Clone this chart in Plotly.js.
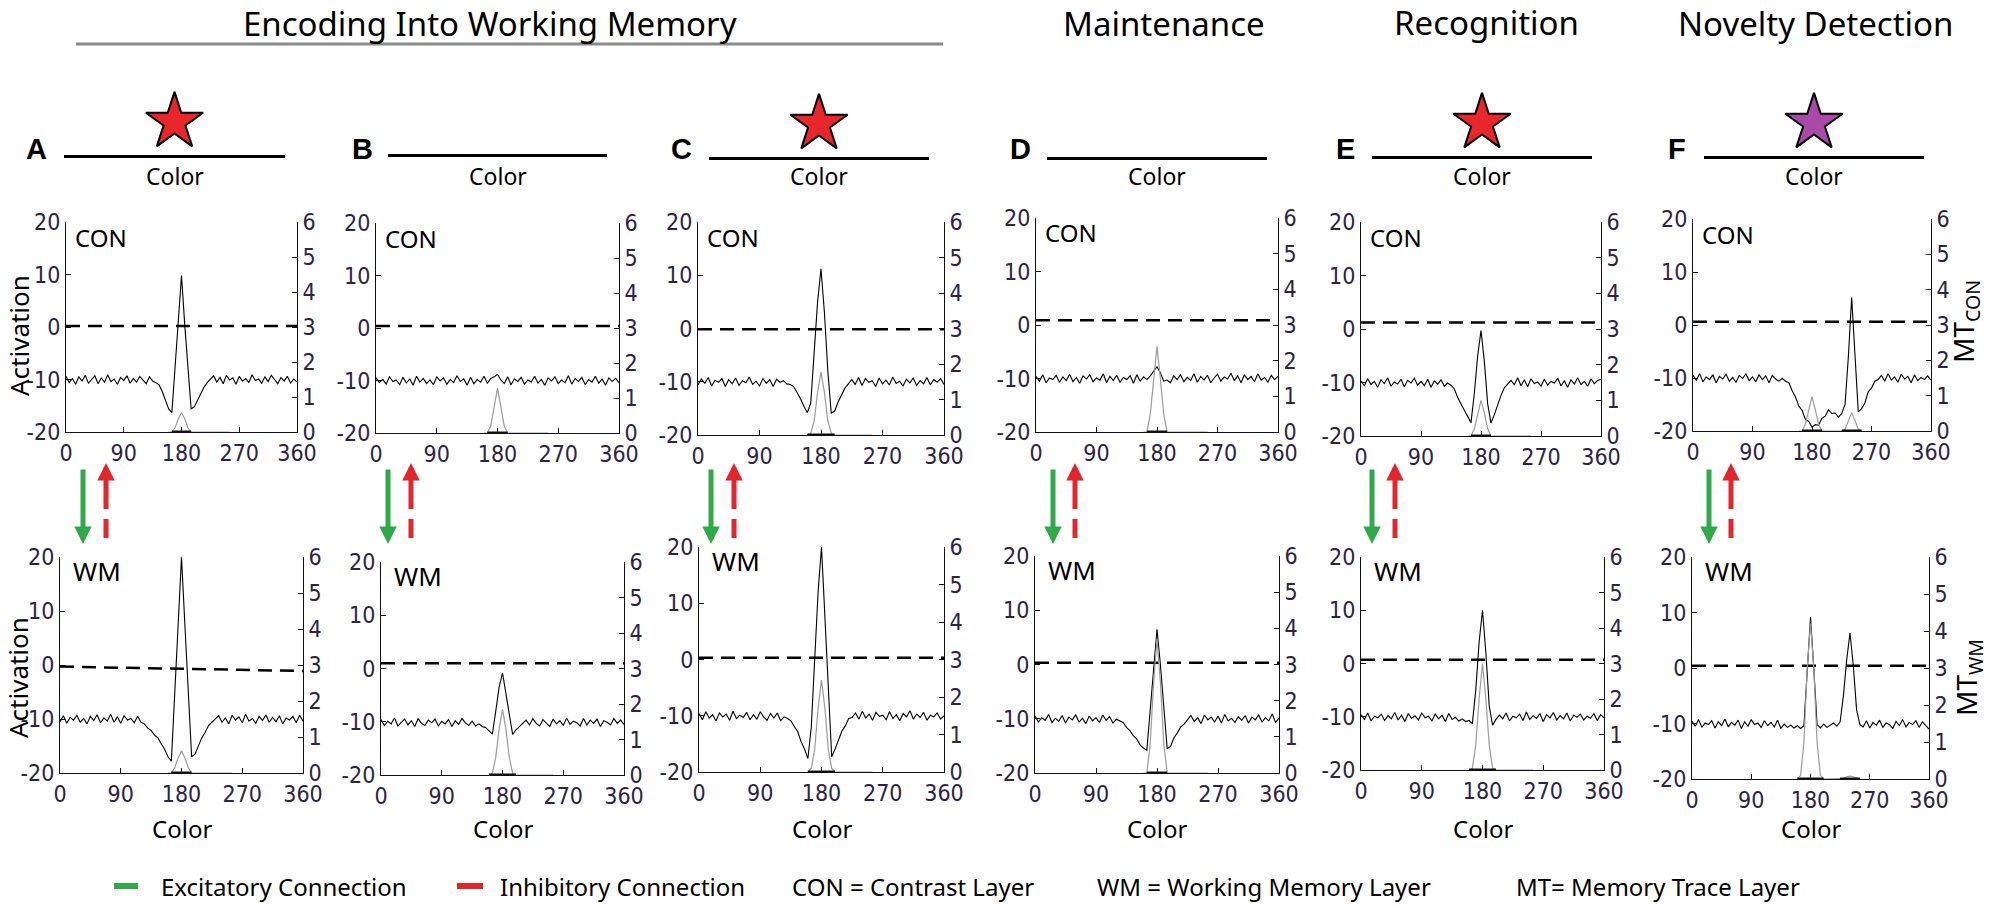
<!DOCTYPE html>
<html><head><meta charset="utf-8">
<script src="https://cdn.plot.ly/plotly-3.0.1.min.js"></script>
<style>html,body{margin:0;padding:0;background:#fff;} #chart{width:1991px;height:906px;}</style>
</head><body><div id="chart"></div>
<script>
// ---------------- DATA ----------------
const colorX = [0,5,10,15,20,25,30,35,40,45,50,55,60,65,70,75,80,85,90,95,100,105,110,115,120,125,130,135,140,145,150,155,160,165,170,175,180,185,190,195,200,205,210,215,220,225,230,235,240,245,250,255,260,265,270,275,280,285,290,295,300,305,310,315,320,325,330,335,340,345,350,355,360];
const colorTicks = [0,90,180,270,360];
const activationTicks = [-20,-10,0,10,20];
const activationTickText = ['-20','-10','0','10','20'];
const mtTicks = [0,1,2,3,4,5,6];
const panelLetters = ['A','B','C','D','E','F'];
const phaseNames = ['Encoding Into Working Memory','Maintenance','Recognition','Novelty Detection'];
const layerNames = ['CON','WM'];

// Contrast layer (CON) activation, panels A-F
const conA = [-9.4,-10.6,-9.8,-10.9,-9.5,-10.3,-9.2,-10.7,-10.0,-9.3,-10.8,-9.7,-10.5,-9.1,-10.4,-9.9,-10.9,-9.6,-10.2,-9.3,-10.7,-9.8,-10.5,-9.4,-10.1,-10.8,-9.5,-10.3,
  -10.6,-11.0,-12.3,-13.9,-15.6,-16.3,-7.8,1.2,9.8,0.5,-8.0,-15.6,-15.2,-13.9,-12.6,-11.5,-10.6,-9.9,
  -9.3,-10.5,-9.6,-10.8,-9.2,-10.1,-9.7,-10.9,-9.4,-10.3,-9.8,-10.6,-9.1,-10.2,-9.9,-10.7,-9.5,-10.4,-9.2,-10.0,-10.8,-9.6,-10.3,-9.4,-10.7,-9.9,-10.5];
const conB = [-9.5,-10.4,-9.8,-10.7,-9.3,-10.2,-9.9,-10.8,-9.4,-10.5,-9.7,-10.9,-9.2,-10.3,-9.6,-10.6,-9.9,-10.8,-9.3,-10.1,-9.5,-10.7,-9.8,-10.4,-9.1,-10.2,-9.7,-10.9,-9.4,-10.6,-9.8,-10.3,-9.2,-10.5,-9.6,-9.3,
  -8.8,
  -9.9,-10.6,-9.3,-10.8,-9.7,-10.2,-9.4,-10.7,-9.9,-10.3,-9.2,-10.5,-9.8,-10.9,-9.5,-10.1,-9.3,-10.6,-9.9,-10.4,-9.1,-10.7,-9.6,-10.2,-9.4,-10.8,-9.8,-10.3,-9.2,-10.5,-9.7,-10.9,-9.5,-10.2,-9.6,-10.4];
const conC = [-10.6,-9.5,-10.3,-9.2,-10.8,-9.7,-10.1,-9.4,-10.9,-9.6,-10.4,-9.3,-10.7,-9.8,-10.2,-9.1,-10.5,-9.9,-10.8,-9.4,-10.3,-9.6,-10.9,-9.5,-10.1,-9.8,-10.4,
  -10.5,-10.9,-12.0,-13.2,-14.6,-15.8,-14.0,-5.0,5.0,11.2,3.0,-8.0,-15.9,-15.5,-13.8,-12.5,-11.2,-10.4,
  -9.6,-10.5,-9.2,-10.7,-9.4,-10.1,-9.8,-10.9,-9.3,-10.4,-9.7,-10.6,-9.1,-10.3,-9.9,-10.8,-9.5,-10.2,-9.3,-10.7,-9.8,-10.4,-9.2,-10.6,-9.6,-10.1,-9.4,-10.5];
const conD = [-9.6,-10.5,-9.3,-10.8,-9.9,-10.2,-9.4,-10.7,-9.7,-10.4,-9.2,-10.6,-9.8,-10.9,-9.5,-10.1,-9.3,-10.6,-9.9,-10.3,-9.1,-10.8,-9.6,-10.4,-9.4,-10.7,-9.8,-10.2,-9.5,-10.9,-9.3,-10.5,-9.7,-10.2,
  -9.5,-8.6,-7.8,-8.9,-10.5,
  -10.3,-10.8,-9.5,-10.2,-9.3,-10.6,-9.8,-10.4,-9.1,-10.7,-9.6,-10.3,-9.4,-10.8,-9.9,-9.2,-10.5,-9.7,-10.1,-9.0,-10.4,-9.5,-10.8,-9.3,-10.2,-9.6,-10.6,-9.1,-10.3,-9.8,-10.7,-9.4,-10.2,-9.6];
const conE = [-9.7,-10.6,-9.3,-10.4,-9.8,-10.9,-9.5,-10.2,-9.1,-10.7,-9.9,-10.3,-9.4,-10.8,-9.6,-10.1,-9.2,-10.5,-9.8,-10.6,-9.4,-10.9,-9.7,-10.3,-9.5,-10.7,-10.1,
  -10.5,-11.2,-12.8,-14.0,-15.2,-16.6,-17.5,-12.0,-5.0,-0.3,-6.0,-14.0,-17.6,-16.0,-14.0,-12.4,-11.0,-10.3,
  -9.6,-10.4,-9.1,-10.6,-9.5,-10.8,-9.3,-10.2,-9.9,-10.7,-9.4,-10.5,-9.8,-10.1,-9.2,-10.6,-9.7,-10.9,-9.5,-10.3,-9.1,-10.4,-9.8,-10.7,-9.3,-10.2,-9.6,-9.4];
const conF = [-9.5,-10.4,-9.2,-10.7,-9.8,-10.3,-9.4,-10.9,-9.7,-10.2,-9.3,-10.6,-9.9,-10.8,-9.5,-10.1,-9.2,-10.5,-9.8,-10.7,-9.4,-10.3,-9.6,-10.9,-9.5,-10.2,-10.6,-10.1,
  -10.6,-10.9,-12.4,-13.6,-15.3,-16.1,-17.8,-18.2,-19.3,-18.8,-18.9,-17.6,-17.2,-16.0,-16.7,-16.6,-17.4,-16.7,-15.0,-6.0,5.2,-6.0,-16.4,-15.8,-14.7,-12.6,-11.9,-10.6,-10.3,
  -9.5,-10.6,-9.2,-10.4,-9.8,-10.8,-9.3,-10.2,-9.7,-10.9,-9.4,-10.5,-9.9,-10.3,-9.6,-10.4];

// Working memory layer (WM) activation, panels A-F
const wmA = [-10.5,-9.4,-10.8,-9.7,-10.2,-9.3,-10.6,-9.9,-10.9,-9.5,-10.3,-9.2,-10.7,-9.8,-10.4,-9.1,-10.6,-9.6,-10.8,-9.4,-10.2,-9.9,-10.7,-9.5,
  -10.6,-10.9,-11.7,-12.1,-13.0,-13.5,-14.6,-15.6,-17.0,-17.8,-5.2,7.6,20,7.5,-5.0,-17.0,-16.5,-15.1,-13.5,-12.5,-11.2,-10.6,-10.0,
  -9.4,-10.6,-9.8,-10.9,-9.3,-10.2,-9.6,-10.7,-9.1,-10.4,-9.9,-10.8,-9.5,-10.3,-9.2,-10.6,-9.7,-10.5,-9.4,-10.9,-9.8,-10.2,-9.5,-10.7,-9.3,-10.4];
const wmB = [-9.6,-10.7,-9.9,-10.4,-9.3,-10.8,-10.1,-9.5,-10.6,-9.8,-10.9,-9.4,-10.3,-10.7,-9.7,-10.2,-9.5,-10.8,-9.9,-10.4,-9.6,-10.9,-9.8,-10.5,-9.4,-10.2,-10.7,-9.9,-10.8,-10.4,
  -10.9,-11.1,-11.7,-12.3,-8.0,-3.5,-0.8,-4.5,-9.0,-12.4,-11.5,-10.9,-10.4,
  -9.7,-10.6,-9.4,-10.3,-10.8,-9.6,-10.2,-10.9,-9.5,-10.4,-9.8,-10.7,-9.3,-10.5,-9.9,-10.2,-10.8,-9.4,-10.6,-9.7,-10.3,-9.5,-10.9,-9.8,-10.1,-10.6,-9.4,-10.3,-9.7,-10.5];
const wmC = [-9.6,-10.7,-9.3,-10.4,-9.8,-10.9,-9.5,-10.2,-9.7,-10.8,-9.2,-10.5,-9.9,-10.3,-9.4,-10.7,-9.8,-10.6,-9.3,-10.2,-10.8,-9.6,-10.4,-9.5,-10.9,-10.2,
  -10.5,-10.9,-11.9,-12.8,-14.6,-15.9,-17.6,-12.0,0.0,12.0,20,8.0,-6.0,-17.3,-15.9,-14.4,-12.7,-11.8,-10.5,-10.3,
  -9.5,-10.6,-9.2,-10.4,-9.7,-10.8,-9.4,-10.1,-9.9,-10.7,-9.3,-10.5,-9.8,-10.9,-9.6,-10.2,-9.1,-10.6,-9.7,-10.3,-9.4,-10.8,-9.9,-10.2,-9.5,-10.6,-10.0];
const wmD = [-9.5,-10.6,-9.8,-10.3,-9.2,-10.7,-9.9,-10.5,-9.4,-10.8,-9.7,-10.2,-9.3,-10.6,-9.9,-10.9,-9.5,-10.4,-9.8,-10.7,-9.3,-10.3,-9.6,-10.8,-10.1,
  -10.4,-10.7,-11.6,-12.2,-13.1,-13.7,-14.8,-15.4,-15.8,-8.0,0.0,6.5,0.0,-8.0,-15.5,-15.1,-13.5,-12.6,-11.5,-11.0,-10.2,
  -9.4,-10.5,-9.8,-10.9,-9.3,-10.2,-9.7,-10.6,-9.5,-10.8,-9.2,-10.4,-9.9,-10.7,-9.6,-10.3,-9.4,-10.8,-9.7,-10.2,-9.3,-10.6,-9.8,-10.4,-9.1,-10.7,-9.9];
const wmE = [-9.6,-10.5,-9.3,-10.8,-9.9,-10.2,-9.5,-10.7,-9.8,-10.4,-9.2,-10.6,-9.7,-10.9,-9.4,-10.3,-9.8,-10.6,-9.3,-10.2,-9.9,-10.8,-9.5,-10.4,-9.7,-10.9,-9.4,-10.5,-10.1,-10.8,-10.4,-10.9,
  -10.7,-11.3,-5.0,4.0,10.0,2.0,-8.0,-11.6,-10.5,
  -9.7,-10.4,-9.3,-10.8,-9.9,-10.2,-9.5,-10.7,-9.1,-10.5,-9.8,-10.3,-9.4,-10.9,-9.6,-10.2,-9.2,-10.6,-9.8,-10.4,-9.3,-10.8,-9.7,-10.1,-9.5,-10.6,-9.9,-10.3,-9.4,-10.7,-9.6,-10.2];
const wmF = [-9.6,-10.5,-9.3,-10.7,-9.9,-10.2,-9.5,-10.8,-9.7,-10.4,-9.2,-10.6,-9.8,-10.3,-9.4,-10.9,-9.7,-10.5,-9.3,-10.2,-9.9,-10.7,-9.5,-10.4,-9.8,-10.6,-9.4,-10.9,-10.1,-10.7,-10.3,-10.8,-10.4,-10.9,
  -10.4,-0.5,9.2,0.0,-10.2,
  -10.8,-10.1,-10.7,-10.3,-9.9,-10.5,-9.7,
  -5.0,1.5,6.3,0.5,-7.5,-10.2,
  -10.6,-9.5,-10.8,-9.8,-10.3,-9.4,-10.7,-9.9,-10.2,-10.9,-9.6,-10.4,-9.3,-10.6,-9.8,-10.2,-9.5,-10.7,-9.7,-10.4,-11.0];

// Memory trace (MT) layer, right axis 0-6
const mtX = [160,165,170,175,180,185,190,195,200,205,210,215,220,225,230,235,240,245,250,255];
const mtConA = [0,0,0.12,0.38,0.55,0.38,0.12,0,0,0,0,0,0,0,0,0,0,0,0,0];
const mtConB = [0,0,0.2,0.75,1.28,0.75,0.2,0,0,0,0,0,0,0,0,0,0,0,0,0];
const mtConC = [0,0.05,0.4,1.2,1.78,1.2,0.4,0.05,0,0,0,0,0,0,0,0,0,0,0,0];
const mtConD = [0,0,0.5,1.5,2.4,1.5,0.5,0,0,0,0,0,0,0,0,0,0,0,0,0];
const mtConE = [0,0,0.2,0.65,1.0,0.65,0.2,0,0,0,0,0,0,0,0,0,0,0,0,0];
const mtConF = [0,0,0.2,0.6,0.97,0.6,0.2,0,0,0,0,0,0,0,0.05,0.3,0.52,0.3,0.05,0];
const mtWmA = [0,0,0.15,0.42,0.62,0.42,0.15,0,0,0,0,0,0,0,0,0,0,0,0,0];
const mtWmB = [0,0.05,0.5,1.3,1.85,1.3,0.5,0.05,0,0,0,0,0,0,0,0,0,0,0,0];
const mtWmC = [0,0.1,0.6,1.7,2.45,1.7,0.6,0.1,0,0,0,0,0,0,0,0,0,0,0,0];
const mtWmD = [0,0,0.8,2.5,3.7,2.5,0.8,0,0,0,0,0,0,0,0,0,0,0,0,0];
const mtWmE = [0,0.05,0.7,2.0,3.0,2.0,0.7,0.05,0,0,0,0,0,0,0,0,0,0,0,0];
const mtWmF = [0,0.1,1.0,3.0,4.2,3.0,1.0,0.1,0,0,0,0,0,0,0.02,0.06,0.08,0.06,0.02,0];

// Threshold (dashed) lines, activation units at x = 0 and x = 360
const thrX = [0,360];
const thrCon = [[0.2,0.2],[0.4,0.4],[-0.15,-0.15],[0.9,0.9],[1.2,1.2],[0.6,0.6]];
const thrWm = [[-0.3,-1.1],[1.0,1.0],[0.3,0.3],[0.3,0.3],[0.7,0.7],[0.4,0.4]];

// Stimulus shown in each column (hue position on the colour line) and its colour
const stimHue = [180,null,180,null,180,180];
const stimFill = ['#e8262b',null,'#e8262b',null,'#e8262b','#a94aa8'];

const legendItems = ['Excitatory Connection','Inhibitory Connection','CON = Contrast Layer','WM = Working Memory Layer','MT= Memory Trace Layer'];

const conLayer = [conA,conB,conC,conD,conE,conF];
const wmLayer = [wmA,wmB,wmC,wmD,wmE,wmF];
const mtCon = [mtConA,mtConB,mtConC,mtConD,mtConE,mtConF];
const mtWm = [mtWmA,mtWmB,mtWmC,mtWmD,mtWmE,mtWmF];

// ---------------- LAYOUT GEOMETRY (pixels) ----------------
const W = 1991, H = 906;
const TXT = 'Noto Sans, Open Sans, sans-serif';
const TICK = 'Liberation Sans Narrow, Arial Narrow, DejaVu Sans Condensed, sans-serif';
const TICKC = '#2e2445';
const GREEN = '#2faa4b', RED = '#e2262c';
const topBox = [[66,297,222,432],[376,619,223,433],[698,944,222,435],[1036,1278,218,432],[1361,1601,222,436],[1693,1931,219,431]];
const botBox = [[60,303,557,773],[381,624,562,775],[699,944,547,772],[1035,1279,556,773],[1361,1604,557,770],[1692,1929,557,779]];
const stimLine = [[64,285,155],[388,607,154],[709,929,157],[1047,1267,157],[1372,1592,156],[1704,1924,156]];
const letterPos = [[36,149],[362,149],[681,149],[1020,149],[1345,149],[1677,149]];
const greenX = [83,388,711,1053,1372,1709];
const redX = [106,411,734,1075,1395,1731];

const fx = x => x / W, fy = y => 1 - y / H;
const nm = (p, n) => p + (n === 1 ? '' : n);

const data = [];
const annotations = [];
const shapes = [];
const layout = {
  width: W, height: H, margin: {l:0, r:0, t:0, b:0},
  paper_bgcolor: '#fff', plot_bgcolor: 'rgba(0,0,0,0)', showlegend: false,
  font: {family: TXT, color: '#000'}
};

const tickFont = {family: TICK, size: 23, color: TICKC};
const common = {showgrid:false, zeroline:false, showline:true, linecolor:'#111', linewidth:1,
  ticks:'inside', ticklen:5, tickwidth:1, tickcolor:'#111', tickfont: tickFont, fixedrange:true};

// segments of the colour axis where a memory trace is present (from the MT arrays)
function traceSegments(mt) {
  const xs = [], ys = [];
  let start = null;
  for (let i = 0; i < mt.length; i++) {
    const on = mt[i] > 0;
    if (on && start === null) start = Math.max(i - 1, 0);
    if (!on && start !== null) { xs.push(mtX[start], mtX[i], null); ys.push(0, 0, null); start = null; }
  }
  if (start !== null) { xs.push(mtX[start], mtX[mt.length - 1], null); ys.push(0, 0, null); }
  return {xs, ys};
}

for (let r = 0; r < 2; r++) {
  for (let c = 0; c < 6; c++) {
    const idx = r * 6 + c;
    const box = r === 0 ? topBox[c] : botBox[c];
    const xn = idx + 1, yl = 2 * idx + 1, yr = 2 * idx + 2;
    const xr = nm('x', xn), ylr = nm('y', yl), yrr = nm('y', yr);
    layout[nm('xaxis', xn)] = Object.assign({}, common, {
      domain: [fx(box[0]), fx(box[1])], range: [0, 360], anchor: ylr,
      tickmode: 'array', tickvals: colorTicks, ticktext: colorTicks.map(String)
    });
    layout[nm('yaxis', yl)] = Object.assign({}, common, {
      domain: [fy(box[3]), fy(box[2])], range: [-20, 20], anchor: xr,
      tickmode: 'array', tickvals: activationTicks, ticktext: activationTickText
    });
    layout[nm('yaxis', yr)] = Object.assign({}, common, {
      overlaying: ylr, side: 'right', range: [0, 6], anchor: xr,
      tickmode: 'array', tickvals: mtTicks, ticktext: mtTicks.map(String)
    });
    const act = r === 0 ? conLayer[c] : wmLayer[c];
    const mt = r === 0 ? mtCon[c] : mtWm[c];
    const thr = r === 0 ? thrCon[c] : thrWm[c];
    data.push({type:'scatter', mode:'lines', x: colorX, y: act, xaxis: xr, yaxis: ylr,
      line: {color:'#000', width:1.1}, hoverinfo:'skip'});
    data.push({type:'scatter', mode:'lines', x: thrX, y: thr, xaxis: xr, yaxis: ylr,
      line: {color:'#000', width:2.5, dash:'14px,8px'}, hoverinfo:'skip'});
    data.push({type:'scatter', mode:'lines', x: mtX, y: mt, xaxis: xr, yaxis: yrr,
      line: {color:'#9c9c9c', width:1.2}, hoverinfo:'skip'});
    const seg = traceSegments(mt);
    data.push({type:'scatter', mode:'lines', x: seg.xs, y: seg.ys, xaxis: xr, yaxis: yrr,
      line: {color:'#111', width:3}, hoverinfo:'skip', cliponaxis:false});
    // layer label
    annotations.push({text: layerNames[r], xref:'paper', yref:'paper',
      x: fx(box[0] + (r === 0 ? 7 : 11)), y: fy(box[2] + (r === 0 ? 15 : 14)),
      xanchor:'left', yanchor:'middle', showarrow:false,
      font:{family:TXT, size: r === 0 ? 24 : 26, color:'#000'}});
    if (r === 1) {
      annotations.push({text:'Color', xref:'paper', yref:'paper', x: fx((box[0] + box[1]) / 2), y: fy(828),
        xanchor:'center', yanchor:'middle', showarrow:false, font:{family:TXT, size:24, color:'#000'}});
    }
  }
}

// stimulus colour lines with stars
for (let c = 0; c < 6; c++) {
  const xn = 13 + c, yn = 25 + c;
  const L = stimLine[c];
  layout[nm('xaxis', xn)] = {domain:[fx(L[0]), fx(L[1])], range:[0,360], anchor: nm('y', yn),
    showline:true, linecolor:'#000', linewidth:3, ticks:'', showticklabels:false, showgrid:false, zeroline:false, fixedrange:true};
  layout[nm('yaxis', yn)] = {domain:[fy(L[2]), fy(L[2] - 66)], range:[0,1], anchor: nm('x', xn), visible:false, fixedrange:true};
  data.push({type:'scatter', mode:'markers', x:[stimHue[c]], y:[stimHue[c] === null ? null : 0.5],
    xaxis: nm('x', xn), yaxis: nm('y', yn), cliponaxis:false, hoverinfo:'skip',
    marker:{symbol:'star', size:43, color: stimFill[c] || '#000', line:{color:'#000', width:2}}});
  annotations.push({text:'Color', xref:'paper', yref:'paper', x: fx((L[0] + L[1]) / 2), y: fy(176),
    xanchor:'center', yanchor:'middle', showarrow:false, font:{family:TXT, size:23, color:'#000'}});
  annotations.push({text:'<b>' + panelLetters[c] + '</b>', xref:'paper', yref:'paper', x: fx(letterPos[c][0]), y: fy(letterPos[c][1]),
    xanchor:'center', yanchor:'middle', showarrow:false, font:{family:'Liberation Sans, Arial, sans-serif', size:29, color:'#000'}});
  // excitatory (green, solid, down) arrow
  annotations.push({text:'', xref:'paper', yref:'paper', x: fx(greenX[c]), y: fy(544), ax:0, ay:-76,
    axref:'pixel', ayref:'pixel', showarrow:true, arrowhead:2, arrowsize:0.7, arrowwidth:5, arrowcolor:GREEN});
  // inhibitory (red, dashed, up) arrow
  annotations.push({text:'', xref:'paper', yref:'paper', x: fx(redX[c]), y: fy(463), ax:0, ay:17,
    axref:'pixel', ayref:'pixel', showarrow:true, arrowhead:2, arrowsize:0.7, arrowwidth:5, arrowcolor:RED});
  shapes.push({type:'line', xref:'paper', yref:'paper', x0: fx(redX[c]), x1: fx(redX[c]), y0: fy(479), y1: fy(509), line:{color:RED, width:5}});
  shapes.push({type:'line', xref:'paper', yref:'paper', x0: fx(redX[c]), x1: fx(redX[c]), y0: fy(519), y1: fy(538), line:{color:RED, width:5}});
}

// phase headers
const phasePos = [[490,23],[1164,23],[1486,22],[1815,23]];
phaseNames.forEach((t, i) => annotations.push({text:t, xref:'paper', yref:'paper', x: fx(phasePos[i][0]), y: fy(phasePos[i][1]),
  xanchor:'center', yanchor:'middle', showarrow:false, font:{family:TXT, size:33, color:'#000'}}));
shapes.push({type:'line', xref:'paper', yref:'paper', x0: fx(76), x1: fx(943), y0: fy(44), y1: fy(44), line:{color:'#8a8a8a', width:3}});

// axis side titles
annotations.push({text:'Activation', xref:'paper', yref:'paper', x: fx(19), y: fy(336), textangle:-90, showarrow:false,
  xanchor:'center', yanchor:'middle', font:{family:TXT, size:26, color:'#000'}});
annotations.push({text:'Activation', xref:'paper', yref:'paper', x: fx(18), y: fy(678), textangle:-90, showarrow:false,
  xanchor:'center', yanchor:'middle', font:{family:TXT, size:26, color:'#000'}});
annotations.push({text:'MT<sub>CON</sub>', xref:'paper', yref:'paper', x: fx(1965), y: fy(322), textangle:-90, showarrow:false,
  xanchor:'center', yanchor:'middle', font:{family:TXT, size:28, color:'#000'}});
annotations.push({text:'MT<sub>WM</sub>', xref:'paper', yref:'paper', x: fx(1968), y: fy(678), textangle:-90, showarrow:false,
  xanchor:'center', yanchor:'middle', font:{family:TXT, size:28, color:'#000'}});

// bottom key
const legendX = [159, 498, 790, 1095, 1514];
legendItems.forEach((t, i) => annotations.push({text:t, xref:'paper', yref:'paper', x: fx(legendX[i]), y: fy(886),
  xanchor:'left', yanchor:'middle', showarrow:false, font:{family:TXT, size:24, color:'#000'}}));
shapes.push({type:'rect', xref:'paper', yref:'paper', x0: fx(114), x1: fx(138), y0: fy(889), y1: fy(883), line:{width:0}, fillcolor:GREEN});
shapes.push({type:'rect', xref:'paper', yref:'paper', x0: fx(457), x1: fx(483), y0: fy(889), y1: fy(883), line:{width:0}, fillcolor:RED});

layout.annotations = annotations;
layout.shapes = shapes;

Plotly.newPlot('chart', data, layout, {displayModeBar:false, staticPlot:true});
</script></body></html>
